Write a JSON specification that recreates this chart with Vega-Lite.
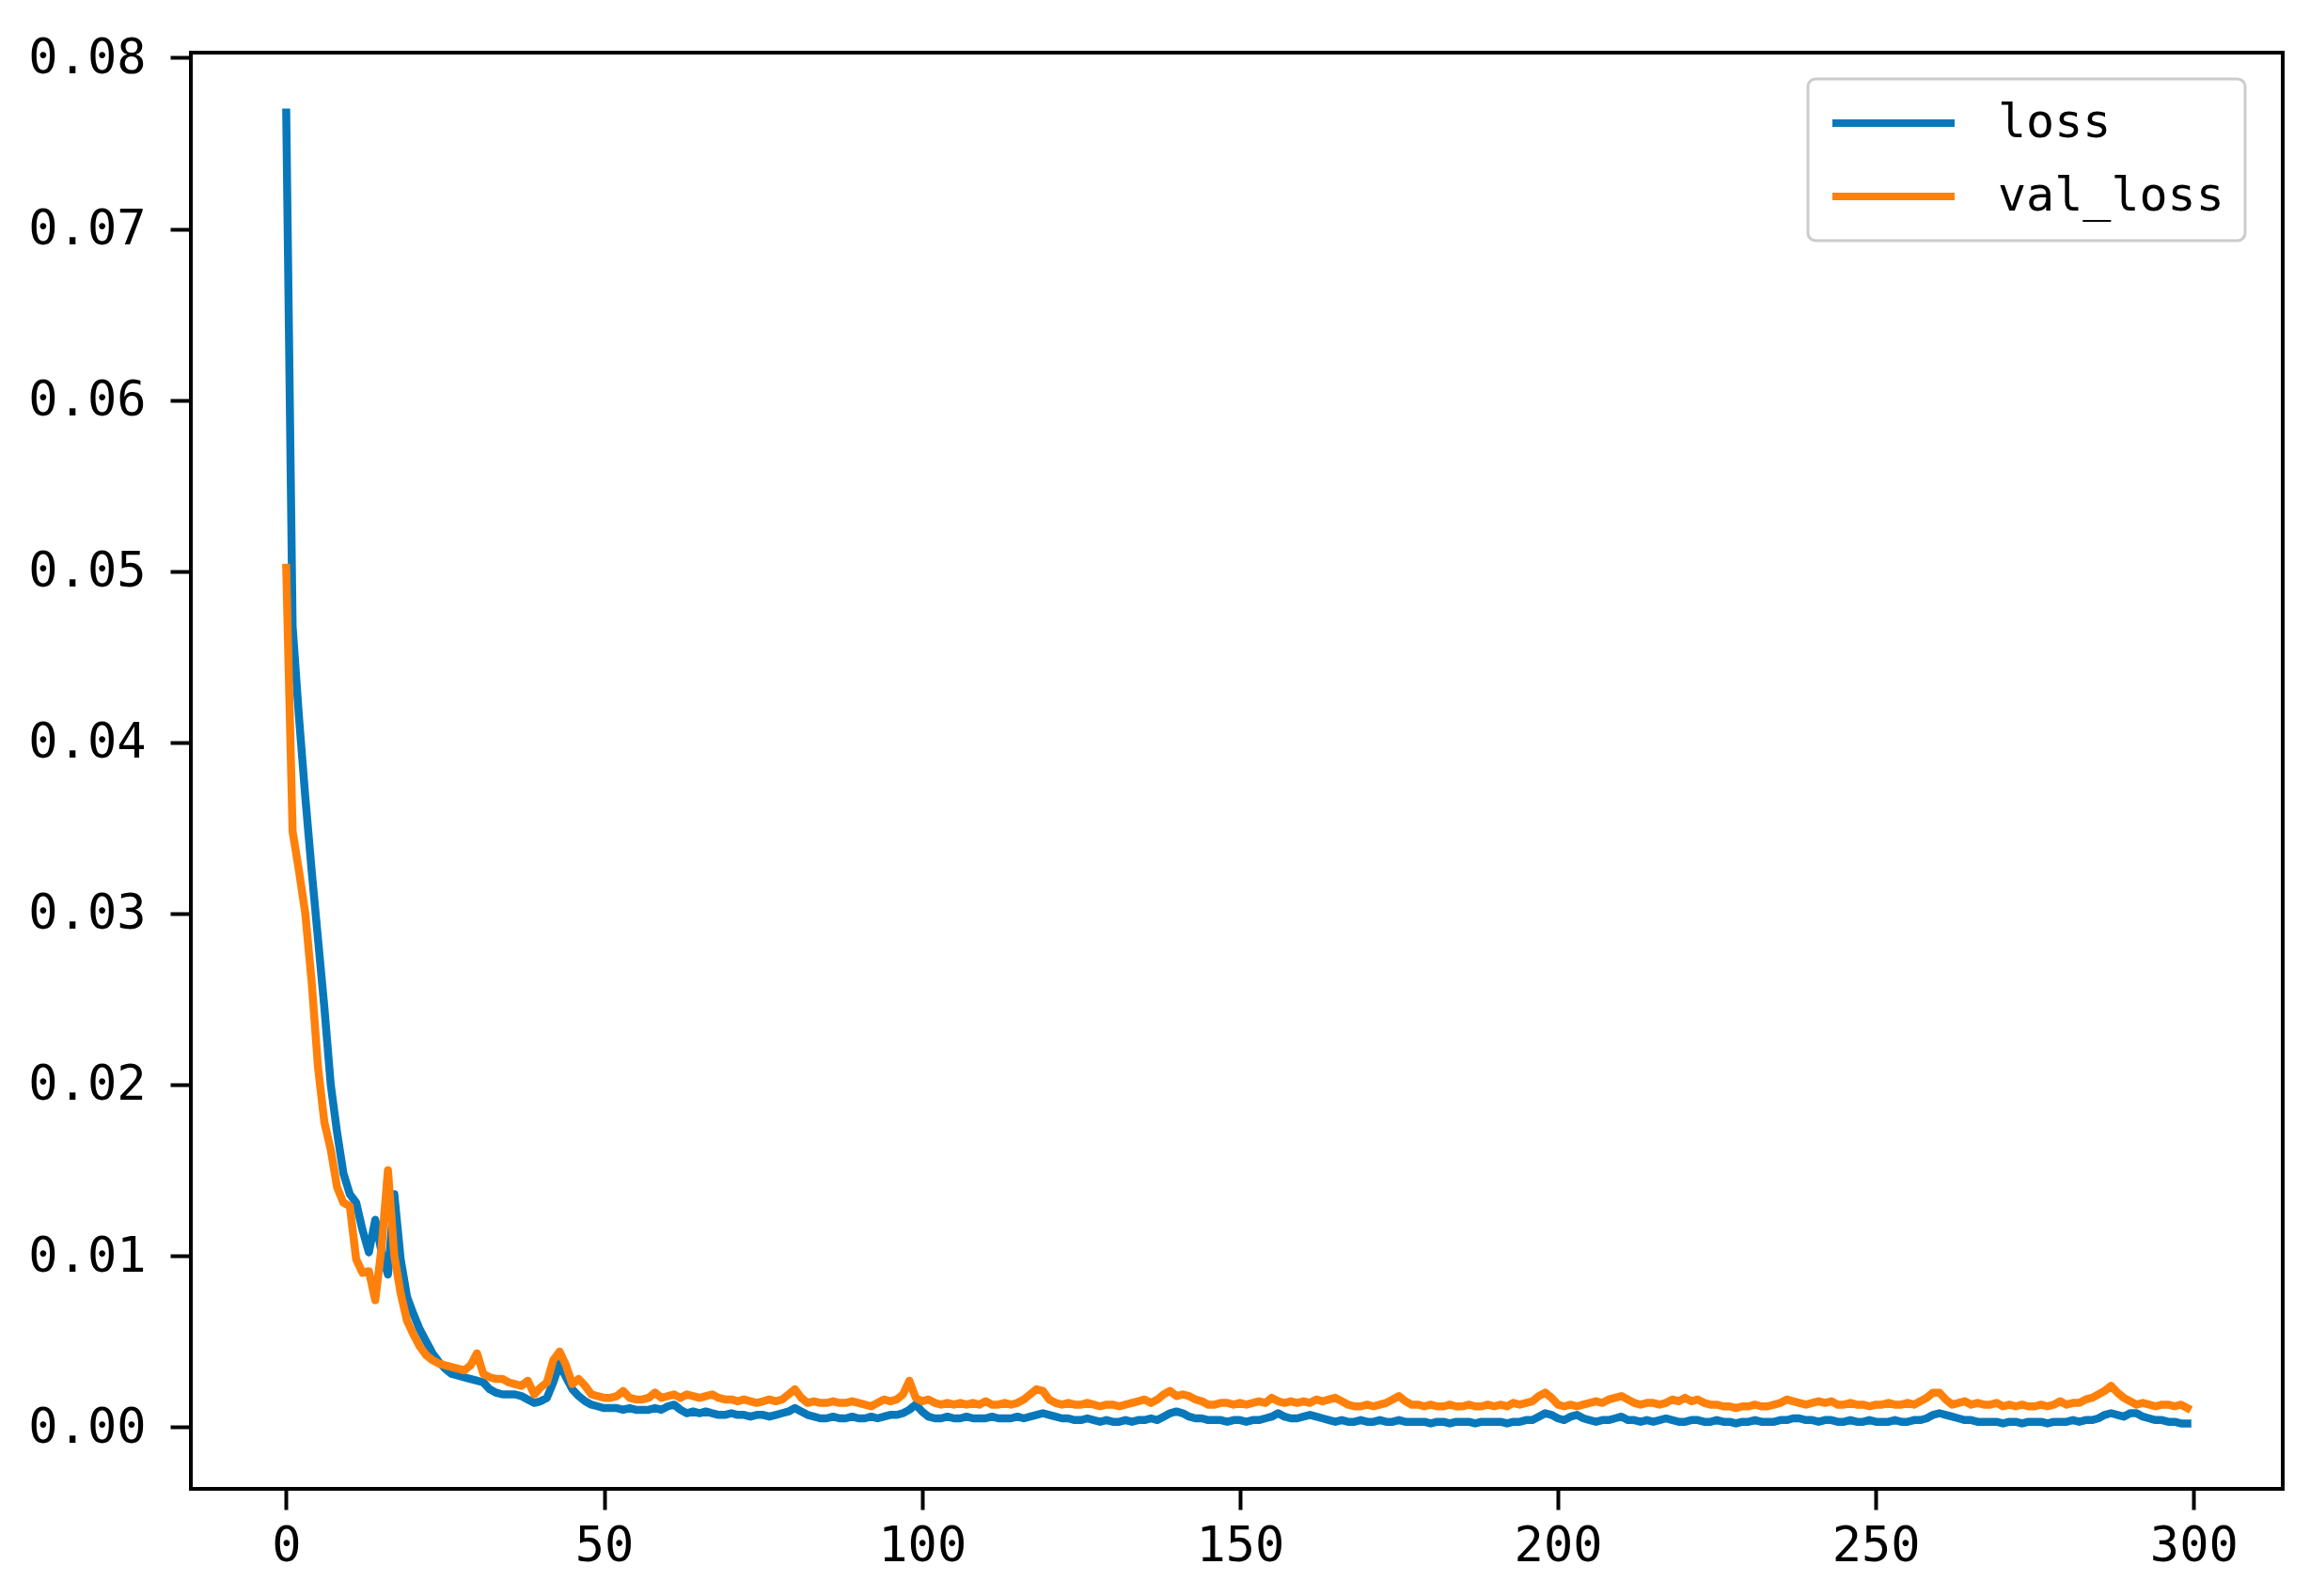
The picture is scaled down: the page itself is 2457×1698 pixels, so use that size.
{
"$schema": "https://vega.github.io/schema/vega-lite/v6.json",
"width": 2225,
"height": 1528,
"autosize": {"type": "none"},
"padding": {"left": 203, "top": 56, "right": 29, "bottom": 114},
"background": "white",
"config": {
  "view": {"stroke": "#000000", "strokeWidth": 4},
  "axis": {"domain": false, "grid": false, "ticks": true, "tickColor": "#000000", "tickWidth": 4, "tickSize": 22, "labelFont": "DejaVu Sans Mono", "labelFontSize": 52, "labelColor": "#000000", "labelFlush": false, "labelOverlap": false, "title": null},
  "legend": {"strokeWidth": 3}
},
"data": {"values": [
{"epoch":0,"loss":0.0768,"val_loss":0.0502},
{"epoch":1,"loss":0.0468,"val_loss":0.0348},
{"epoch":2,"loss":0.0415,"val_loss":0.0325},
{"epoch":3,"loss":0.0368,"val_loss":0.0300},
{"epoch":4,"loss":0.0325,"val_loss":0.0260},
{"epoch":5,"loss":0.0285,"val_loss":0.0210},
{"epoch":6,"loss":0.0245,"val_loss":0.0178},
{"epoch":7,"loss":0.0200,"val_loss":0.0162},
{"epoch":8,"loss":0.0172,"val_loss":0.0140},
{"epoch":9,"loss":0.0148,"val_loss":0.0131},
{"epoch":10,"loss":0.0136,"val_loss":0.0129},
{"epoch":11,"loss":0.0131,"val_loss":0.0098},
{"epoch":12,"loss":0.0115,"val_loss":0.0090},
{"epoch":13,"loss":0.0102,"val_loss":0.0091},
{"epoch":14,"loss":0.0121,"val_loss":0.0074},
{"epoch":15,"loss":0.0102,"val_loss":0.0105},
{"epoch":16,"loss":0.0089,"val_loss":0.0150},
{"epoch":17,"loss":0.0136,"val_loss":0.0100},
{"epoch":18,"loss":0.0098,"val_loss":0.0078},
{"epoch":19,"loss":0.0076,"val_loss":0.0062},
{"epoch":20,"loss":0.0066,"val_loss":0.0054},
{"epoch":21,"loss":0.0057,"val_loss":0.0047},
{"epoch":22,"loss":0.0050,"val_loss":0.0042},
{"epoch":23,"loss":0.0043,"val_loss":0.0039},
{"epoch":24,"loss":0.0038,"val_loss":0.0037},
{"epoch":25,"loss":0.0034,"val_loss":0.0036},
{"epoch":26,"loss":0.0031,"val_loss":0.0035},
{"epoch":27,"loss":0.0030,"val_loss":0.0034},
{"epoch":28,"loss":0.0029,"val_loss":0.0033},
{"epoch":29,"loss":0.0028,"val_loss":0.0036},
{"epoch":30,"loss":0.0027,"val_loss":0.0043},
{"epoch":31,"loss":0.0026,"val_loss":0.0031},
{"epoch":32,"loss":0.0022,"val_loss":0.0029},
{"epoch":33,"loss":0.0020,"val_loss":0.0028},
{"epoch":34,"loss":0.0019,"val_loss":0.0028},
{"epoch":35,"loss":0.0019,"val_loss":0.0026},
{"epoch":36,"loss":0.0019,"val_loss":0.0025},
{"epoch":37,"loss":0.0018,"val_loss":0.0024},
{"epoch":38,"loss":0.0016,"val_loss":0.0027},
{"epoch":39,"loss":0.0014,"val_loss":0.0019},
{"epoch":40,"loss":0.0015,"val_loss":0.0023},
{"epoch":41,"loss":0.0017,"val_loss":0.0026},
{"epoch":42,"loss":0.0026,"val_loss":0.0039},
{"epoch":43,"loss":0.0037,"val_loss":0.0044},
{"epoch":44,"loss":0.0029,"val_loss":0.0036},
{"epoch":45,"loss":0.0022,"val_loss":0.0025},
{"epoch":46,"loss":0.0018,"val_loss":0.0028},
{"epoch":47,"loss":0.0015,"val_loss":0.0024},
{"epoch":48,"loss":0.0013,"val_loss":0.0019},
{"epoch":49,"loss":0.0012,"val_loss":0.0018},
{"epoch":50,"loss":0.0011,"val_loss":0.0017},
{"epoch":51,"loss":0.0011,"val_loss":0.0017},
{"epoch":52,"loss":0.0011,"val_loss":0.0018},
{"epoch":53,"loss":0.0010,"val_loss":0.0021},
{"epoch":54,"loss":0.0011,"val_loss":0.0017},
{"epoch":55,"loss":0.0010,"val_loss":0.0016},
{"epoch":56,"loss":0.0010,"val_loss":0.0016},
{"epoch":57,"loss":0.0010,"val_loss":0.0017},
{"epoch":58,"loss":0.0011,"val_loss":0.0020},
{"epoch":59,"loss":0.0010,"val_loss":0.0017},
{"epoch":60,"loss":0.0012,"val_loss":0.0018},
{"epoch":61,"loss":0.0013,"val_loss":0.0019},
{"epoch":62,"loss":0.0010,"val_loss":0.0017},
{"epoch":63,"loss":0.0008,"val_loss":0.0019},
{"epoch":64,"loss":0.0009,"val_loss":0.0018},
{"epoch":65,"loss":0.0008,"val_loss":0.0017},
{"epoch":66,"loss":0.0009,"val_loss":0.0018},
{"epoch":67,"loss":0.0008,"val_loss":0.0019},
{"epoch":68,"loss":0.0007,"val_loss":0.0017},
{"epoch":69,"loss":0.0007,"val_loss":0.0016},
{"epoch":70,"loss":0.0008,"val_loss":0.0016},
{"epoch":71,"loss":0.0007,"val_loss":0.0015},
{"epoch":72,"loss":0.0007,"val_loss":0.0016},
{"epoch":73,"loss":0.0006,"val_loss":0.0015},
{"epoch":74,"loss":0.0007,"val_loss":0.0014},
{"epoch":75,"loss":0.0007,"val_loss":0.0015},
{"epoch":76,"loss":0.0006,"val_loss":0.0016},
{"epoch":77,"loss":0.0007,"val_loss":0.0015},
{"epoch":78,"loss":0.0008,"val_loss":0.0016},
{"epoch":79,"loss":0.0009,"val_loss":0.0019},
{"epoch":80,"loss":0.0011,"val_loss":0.0022},
{"epoch":81,"loss":0.0009,"val_loss":0.0017},
{"epoch":82,"loss":0.0007,"val_loss":0.0014},
{"epoch":83,"loss":0.0006,"val_loss":0.0015},
{"epoch":84,"loss":0.0005,"val_loss":0.0014},
{"epoch":85,"loss":0.0005,"val_loss":0.0014},
{"epoch":86,"loss":0.0006,"val_loss":0.0015},
{"epoch":87,"loss":0.0005,"val_loss":0.0014},
{"epoch":88,"loss":0.0005,"val_loss":0.0014},
{"epoch":89,"loss":0.0006,"val_loss":0.0015},
{"epoch":90,"loss":0.0005,"val_loss":0.0014},
{"epoch":91,"loss":0.0005,"val_loss":0.0013},
{"epoch":92,"loss":0.0006,"val_loss":0.0012},
{"epoch":93,"loss":0.0005,"val_loss":0.0014},
{"epoch":94,"loss":0.0006,"val_loss":0.0016},
{"epoch":95,"loss":0.0007,"val_loss":0.0015},
{"epoch":96,"loss":0.0007,"val_loss":0.0016},
{"epoch":97,"loss":0.0008,"val_loss":0.0019},
{"epoch":98,"loss":0.0010,"val_loss":0.0027},
{"epoch":99,"loss":0.0013,"val_loss":0.0017},
{"epoch":100,"loss":0.0009,"val_loss":0.0015},
{"epoch":101,"loss":0.0006,"val_loss":0.0016},
{"epoch":102,"loss":0.0005,"val_loss":0.0014},
{"epoch":103,"loss":0.0005,"val_loss":0.0013},
{"epoch":104,"loss":0.0006,"val_loss":0.0014},
{"epoch":105,"loss":0.0005,"val_loss":0.0013},
{"epoch":106,"loss":0.0005,"val_loss":0.0014},
{"epoch":107,"loss":0.0006,"val_loss":0.0013},
{"epoch":108,"loss":0.0005,"val_loss":0.0014},
{"epoch":109,"loss":0.0005,"val_loss":0.0013},
{"epoch":110,"loss":0.0005,"val_loss":0.0015},
{"epoch":111,"loss":0.0006,"val_loss":0.0013},
{"epoch":112,"loss":0.0005,"val_loss":0.0013},
{"epoch":113,"loss":0.0005,"val_loss":0.0014},
{"epoch":114,"loss":0.0005,"val_loss":0.0013},
{"epoch":115,"loss":0.0006,"val_loss":0.0014},
{"epoch":116,"loss":0.0005,"val_loss":0.0016},
{"epoch":117,"loss":0.0006,"val_loss":0.0019},
{"epoch":118,"loss":0.0007,"val_loss":0.0022},
{"epoch":119,"loss":0.0008,"val_loss":0.0021},
{"epoch":120,"loss":0.0007,"val_loss":0.0016},
{"epoch":121,"loss":0.0006,"val_loss":0.0014},
{"epoch":122,"loss":0.0005,"val_loss":0.0013},
{"epoch":123,"loss":0.0005,"val_loss":0.0014},
{"epoch":124,"loss":0.0004,"val_loss":0.0013},
{"epoch":125,"loss":0.0004,"val_loss":0.0013},
{"epoch":126,"loss":0.0005,"val_loss":0.0014},
{"epoch":127,"loss":0.0004,"val_loss":0.0013},
{"epoch":128,"loss":0.0003,"val_loss":0.0012},
{"epoch":129,"loss":0.0004,"val_loss":0.0013},
{"epoch":130,"loss":0.0003,"val_loss":0.0013},
{"epoch":131,"loss":0.0003,"val_loss":0.0012},
{"epoch":132,"loss":0.0004,"val_loss":0.0013},
{"epoch":133,"loss":0.0003,"val_loss":0.0014},
{"epoch":134,"loss":0.0004,"val_loss":0.0015},
{"epoch":135,"loss":0.0004,"val_loss":0.0016},
{"epoch":136,"loss":0.0005,"val_loss":0.0014},
{"epoch":137,"loss":0.0004,"val_loss":0.0016},
{"epoch":138,"loss":0.0006,"val_loss":0.0019},
{"epoch":139,"loss":0.0008,"val_loss":0.0021},
{"epoch":140,"loss":0.0009,"val_loss":0.0018},
{"epoch":141,"loss":0.0008,"val_loss":0.0019},
{"epoch":142,"loss":0.0006,"val_loss":0.0018},
{"epoch":143,"loss":0.0005,"val_loss":0.0016},
{"epoch":144,"loss":0.0005,"val_loss":0.0015},
{"epoch":145,"loss":0.0004,"val_loss":0.0013},
{"epoch":146,"loss":0.0004,"val_loss":0.0013},
{"epoch":147,"loss":0.0004,"val_loss":0.0014},
{"epoch":148,"loss":0.0003,"val_loss":0.0014},
{"epoch":149,"loss":0.0004,"val_loss":0.0013},
{"epoch":150,"loss":0.0004,"val_loss":0.0014},
{"epoch":151,"loss":0.0003,"val_loss":0.0013},
{"epoch":152,"loss":0.0004,"val_loss":0.0014},
{"epoch":153,"loss":0.0004,"val_loss":0.0015},
{"epoch":154,"loss":0.0005,"val_loss":0.0014},
{"epoch":155,"loss":0.0006,"val_loss":0.0017},
{"epoch":156,"loss":0.0008,"val_loss":0.0015},
{"epoch":157,"loss":0.0006,"val_loss":0.0014},
{"epoch":158,"loss":0.0005,"val_loss":0.0015},
{"epoch":159,"loss":0.0005,"val_loss":0.0014},
{"epoch":160,"loss":0.0006,"val_loss":0.0015},
{"epoch":161,"loss":0.0007,"val_loss":0.0014},
{"epoch":162,"loss":0.0006,"val_loss":0.0016},
{"epoch":163,"loss":0.0005,"val_loss":0.0015},
{"epoch":164,"loss":0.0004,"val_loss":0.0016},
{"epoch":165,"loss":0.0003,"val_loss":0.0017},
{"epoch":166,"loss":0.0004,"val_loss":0.0015},
{"epoch":167,"loss":0.0003,"val_loss":0.0013},
{"epoch":168,"loss":0.0003,"val_loss":0.0012},
{"epoch":169,"loss":0.0004,"val_loss":0.0012},
{"epoch":170,"loss":0.0003,"val_loss":0.0013},
{"epoch":171,"loss":0.0003,"val_loss":0.0012},
{"epoch":172,"loss":0.0004,"val_loss":0.0013},
{"epoch":173,"loss":0.0003,"val_loss":0.0014},
{"epoch":174,"loss":0.0003,"val_loss":0.0016},
{"epoch":175,"loss":0.0004,"val_loss":0.0018},
{"epoch":176,"loss":0.0003,"val_loss":0.0015},
{"epoch":177,"loss":0.0003,"val_loss":0.0013},
{"epoch":178,"loss":0.0003,"val_loss":0.0013},
{"epoch":179,"loss":0.0003,"val_loss":0.0012},
{"epoch":180,"loss":0.0002,"val_loss":0.0013},
{"epoch":181,"loss":0.0003,"val_loss":0.0012},
{"epoch":182,"loss":0.0003,"val_loss":0.0012},
{"epoch":183,"loss":0.0002,"val_loss":0.0013},
{"epoch":184,"loss":0.0003,"val_loss":0.0012},
{"epoch":185,"loss":0.0003,"val_loss":0.0012},
{"epoch":186,"loss":0.0003,"val_loss":0.0013},
{"epoch":187,"loss":0.0002,"val_loss":0.0012},
{"epoch":188,"loss":0.0003,"val_loss":0.0012},
{"epoch":189,"loss":0.0003,"val_loss":0.0013},
{"epoch":190,"loss":0.0003,"val_loss":0.0012},
{"epoch":191,"loss":0.0003,"val_loss":0.0013},
{"epoch":192,"loss":0.0002,"val_loss":0.0012},
{"epoch":193,"loss":0.0003,"val_loss":0.0014},
{"epoch":194,"loss":0.0003,"val_loss":0.0013},
{"epoch":195,"loss":0.0004,"val_loss":0.0014},
{"epoch":196,"loss":0.0004,"val_loss":0.0015},
{"epoch":197,"loss":0.0006,"val_loss":0.0018},
{"epoch":198,"loss":0.0008,"val_loss":0.0020},
{"epoch":199,"loss":0.0007,"val_loss":0.0017},
{"epoch":200,"loss":0.0005,"val_loss":0.0013},
{"epoch":201,"loss":0.0004,"val_loss":0.0012},
{"epoch":202,"loss":0.0006,"val_loss":0.0013},
{"epoch":203,"loss":0.0007,"val_loss":0.0012},
{"epoch":204,"loss":0.0005,"val_loss":0.0013},
{"epoch":205,"loss":0.0004,"val_loss":0.0014},
{"epoch":206,"loss":0.0003,"val_loss":0.0015},
{"epoch":207,"loss":0.0004,"val_loss":0.0014},
{"epoch":208,"loss":0.0004,"val_loss":0.0016},
{"epoch":209,"loss":0.0005,"val_loss":0.0017},
{"epoch":210,"loss":0.0006,"val_loss":0.0018},
{"epoch":211,"loss":0.0004,"val_loss":0.0016},
{"epoch":212,"loss":0.0004,"val_loss":0.0014},
{"epoch":213,"loss":0.0003,"val_loss":0.0013},
{"epoch":214,"loss":0.0004,"val_loss":0.0014},
{"epoch":215,"loss":0.0003,"val_loss":0.0014},
{"epoch":216,"loss":0.0004,"val_loss":0.0013},
{"epoch":217,"loss":0.0005,"val_loss":0.0014},
{"epoch":218,"loss":0.0004,"val_loss":0.0016},
{"epoch":219,"loss":0.0003,"val_loss":0.0015},
{"epoch":220,"loss":0.0003,"val_loss":0.0017},
{"epoch":221,"loss":0.0004,"val_loss":0.0015},
{"epoch":222,"loss":0.0004,"val_loss":0.0016},
{"epoch":223,"loss":0.0003,"val_loss":0.0014},
{"epoch":224,"loss":0.0003,"val_loss":0.0013},
{"epoch":225,"loss":0.0004,"val_loss":0.0013},
{"epoch":226,"loss":0.0003,"val_loss":0.0012},
{"epoch":227,"loss":0.0003,"val_loss":0.0012},
{"epoch":228,"loss":0.0002,"val_loss":0.0011},
{"epoch":229,"loss":0.0003,"val_loss":0.0012},
{"epoch":230,"loss":0.0003,"val_loss":0.0012},
{"epoch":231,"loss":0.0004,"val_loss":0.0013},
{"epoch":232,"loss":0.0003,"val_loss":0.0012},
{"epoch":233,"loss":0.0003,"val_loss":0.0012},
{"epoch":234,"loss":0.0003,"val_loss":0.0013},
{"epoch":235,"loss":0.0004,"val_loss":0.0014},
{"epoch":236,"loss":0.0004,"val_loss":0.0016},
{"epoch":237,"loss":0.0005,"val_loss":0.0015},
{"epoch":238,"loss":0.0005,"val_loss":0.0014},
{"epoch":239,"loss":0.0004,"val_loss":0.0013},
{"epoch":240,"loss":0.0004,"val_loss":0.0014},
{"epoch":241,"loss":0.0003,"val_loss":0.0015},
{"epoch":242,"loss":0.0004,"val_loss":0.0014},
{"epoch":243,"loss":0.0004,"val_loss":0.0015},
{"epoch":244,"loss":0.0003,"val_loss":0.0013},
{"epoch":245,"loss":0.0003,"val_loss":0.0013},
{"epoch":246,"loss":0.0004,"val_loss":0.0014},
{"epoch":247,"loss":0.0003,"val_loss":0.0013},
{"epoch":248,"loss":0.0003,"val_loss":0.0013},
{"epoch":249,"loss":0.0004,"val_loss":0.0012},
{"epoch":250,"loss":0.0003,"val_loss":0.0013},
{"epoch":251,"loss":0.0003,"val_loss":0.0013},
{"epoch":252,"loss":0.0003,"val_loss":0.0014},
{"epoch":253,"loss":0.0004,"val_loss":0.0013},
{"epoch":254,"loss":0.0003,"val_loss":0.0013},
{"epoch":255,"loss":0.0003,"val_loss":0.0014},
{"epoch":256,"loss":0.0004,"val_loss":0.0013},
{"epoch":257,"loss":0.0004,"val_loss":0.0015},
{"epoch":258,"loss":0.0005,"val_loss":0.0017},
{"epoch":259,"loss":0.0007,"val_loss":0.0020},
{"epoch":260,"loss":0.0008,"val_loss":0.0020},
{"epoch":261,"loss":0.0007,"val_loss":0.0016},
{"epoch":262,"loss":0.0006,"val_loss":0.0013},
{"epoch":263,"loss":0.0005,"val_loss":0.0014},
{"epoch":264,"loss":0.0004,"val_loss":0.0015},
{"epoch":265,"loss":0.0004,"val_loss":0.0013},
{"epoch":266,"loss":0.0003,"val_loss":0.0014},
{"epoch":267,"loss":0.0003,"val_loss":0.0013},
{"epoch":268,"loss":0.0003,"val_loss":0.0013},
{"epoch":269,"loss":0.0003,"val_loss":0.0014},
{"epoch":270,"loss":0.0002,"val_loss":0.0012},
{"epoch":271,"loss":0.0003,"val_loss":0.0013},
{"epoch":272,"loss":0.0003,"val_loss":0.0012},
{"epoch":273,"loss":0.0002,"val_loss":0.0013},
{"epoch":274,"loss":0.0003,"val_loss":0.0012},
{"epoch":275,"loss":0.0003,"val_loss":0.0012},
{"epoch":276,"loss":0.0003,"val_loss":0.0013},
{"epoch":277,"loss":0.0002,"val_loss":0.0012},
{"epoch":278,"loss":0.0003,"val_loss":0.0013},
{"epoch":279,"loss":0.0003,"val_loss":0.0015},
{"epoch":280,"loss":0.0003,"val_loss":0.0013},
{"epoch":281,"loss":0.0004,"val_loss":0.0014},
{"epoch":282,"loss":0.0003,"val_loss":0.0014},
{"epoch":283,"loss":0.0004,"val_loss":0.0016},
{"epoch":284,"loss":0.0004,"val_loss":0.0017},
{"epoch":285,"loss":0.0005,"val_loss":0.0019},
{"epoch":286,"loss":0.0007,"val_loss":0.0021},
{"epoch":287,"loss":0.0008,"val_loss":0.0024},
{"epoch":288,"loss":0.0007,"val_loss":0.0020},
{"epoch":289,"loss":0.0006,"val_loss":0.0017},
{"epoch":290,"loss":0.0008,"val_loss":0.0015},
{"epoch":291,"loss":0.0008,"val_loss":0.0013},
{"epoch":292,"loss":0.0006,"val_loss":0.0014},
{"epoch":293,"loss":0.0005,"val_loss":0.0013},
{"epoch":294,"loss":0.0004,"val_loss":0.0012},
{"epoch":295,"loss":0.0004,"val_loss":0.0013},
{"epoch":296,"loss":0.0003,"val_loss":0.0013},
{"epoch":297,"loss":0.0003,"val_loss":0.0012},
{"epoch":298,"loss":0.0002,"val_loss":0.0013},
{"epoch":299,"loss":0.0002,"val_loss":0.0011}
]},
"transform": [{"fold": ["loss", "val_loss"], "as": ["series", "value"]}],
"mark": {"type": "line", "strokeWidth": 8.5, "strokeJoin": "round", "strokeCap": "square", "clip": true},
"encoding": {
  "x": {"field": "epoch", "type": "quantitative", "scale": {"domain": [-15, 314], "nice": false, "zero": false}, "axis": {"values": [0, 50, 100, 150, 200, 250, 300], "labelPadding": 13}},
  "y": {"field": "value", "type": "quantitative", "scale": {"domain": [-0.00362, 0.0803], "nice": false, "zero": false}, "axis": {"values": [0, 0.01, 0.02, 0.03, 0.04, 0.05, 0.06, 0.07, 0.08], "format": ".2f", "labelPadding": 26}},
  "color": {"field": "series", "type": "nominal", "sort": ["loss", "val_loss"], "scale": {"domain": ["loss", "val_loss"], "range": ["#0878bb", "#ff800a"]},
    "legend": {"title": null, "orient": "none", "legendX": 1720, "legendY": 28, "symbolType": "stroke", "symbolSize": 16900, "symbolStrokeWidth": 8, "clipHeight": 50, "labelFont": "DejaVu Sans Mono", "labelFontSize": 50, "labelColor": "#000000", "labelOffset": 42, "padding": 22, "strokeColor": "#cccccc", "cornerRadius": 8, "fillColor": "#ffffff", "rowPadding": 28, "labelLimit": 0}}
}
}
